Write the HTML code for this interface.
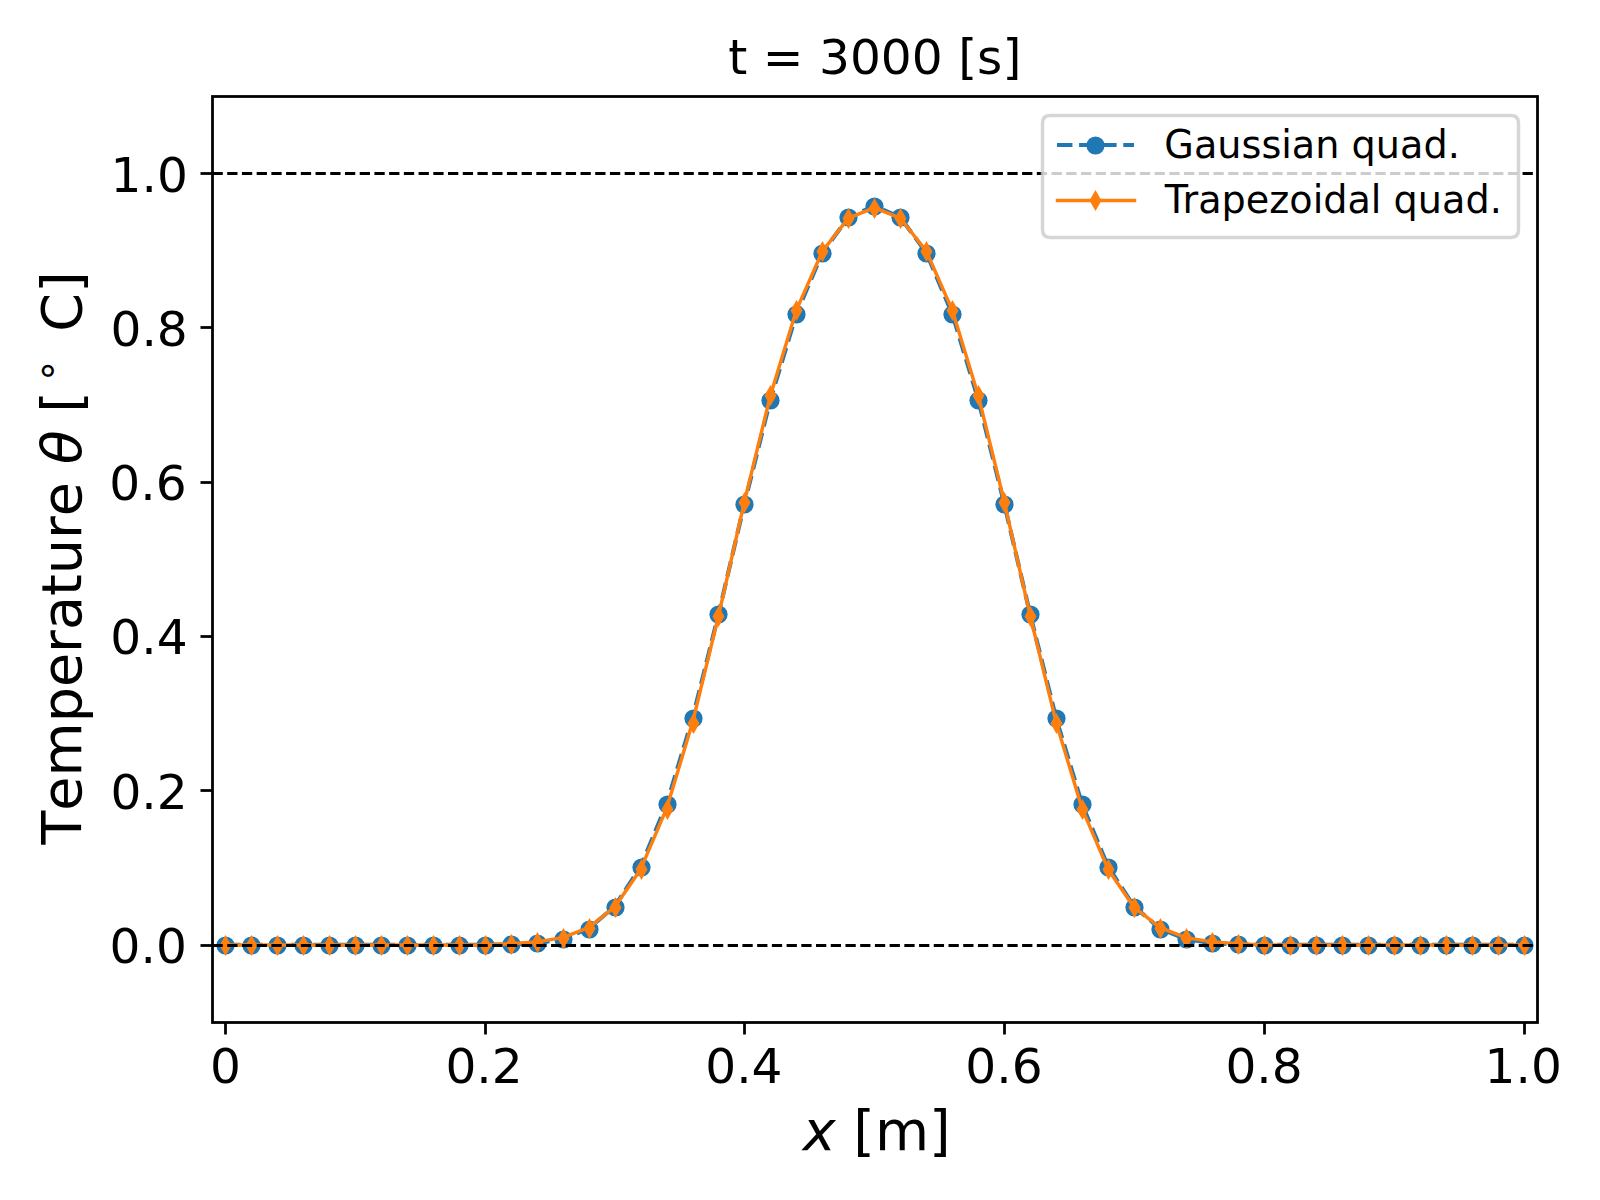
<!DOCTYPE html>
<html lang="en"><head><meta charset="utf-8"><title>t = 3000 [s]</title>
<style>
html,body{margin:0;padding:0;background:#fff;}
body{width:1600px;height:1200px;overflow:hidden;}
svg{display:block;}
text{font-family:"DejaVu Sans","Liberation Sans",sans-serif;fill:#000;}
.tk{font-size:48.61px;}
.lb{font-size:55.56px;}
.lg{font-size:38.19px;}
.it{font-style:oblique;}
</style></head>
<body>
<svg width="1600" height="1200" viewBox="0 0 1600 1200">
<rect x="0" y="0" width="1600" height="1200" fill="#fff"/>
<g>
<polyline points="224.94,944.78 250.92,944.78 276.9,944.78 302.87,944.78 328.85,944.78 354.82,944.78 380.8,944.78 406.78,944.78 432.75,944.78 458.73,944.78 484.7,944.75 510.68,944.4 536.66,943.15 562.63,939.02 588.61,928.6 614.58,906.6 640.56,866.84 666.54,804.4 692.51,718.4 718.49,614.4 744.46,503.6 770.44,399.6 796.42,313.79 822.39,252.73 848.37,217.4 874.34,206 900.32,217.4 926.3,252.73 952.27,313.79 978.25,399.6 1004.22,503.6 1030.2,614.4 1056.18,718.4 1082.15,804.4 1108.13,866.84 1134.1,906.6 1160.08,928.6 1186.06,939.02 1212.03,943.15 1238.01,944.4 1263.98,944.75 1289.96,944.78 1315.94,944.78 1341.91,944.78 1367.89,944.78 1393.86,944.78 1419.84,944.78 1445.82,944.78 1471.79,944.78 1497.77,944.78 1523.74,944.78" fill="none" stroke="#1f77b4" stroke-width="4.17" stroke-dasharray="15.42 6.67" stroke-linejoin="round"/>
<g fill="#1f77b4">
<circle cx="225.5" cy="945.5" r="9.12"/><circle cx="251.5" cy="945.5" r="9.12"/><circle cx="277.5" cy="945.5" r="9.12"/><circle cx="303.5" cy="945.5" r="9.12"/><circle cx="329.5" cy="945.5" r="9.12"/><circle cx="355.5" cy="945.5" r="9.12"/><circle cx="381.5" cy="945.5" r="9.12"/><circle cx="407.5" cy="945.5" r="9.12"/><circle cx="433.5" cy="945.5" r="9.12"/><circle cx="459.5" cy="945.5" r="9.12"/><circle cx="485.5" cy="945.5" r="9.12"/><circle cx="511.5" cy="944.5" r="9.12"/><circle cx="537.5" cy="943.5" r="9.12"/><circle cx="563.5" cy="939.5" r="9.12"/><circle cx="589.5" cy="929.5" r="9.12"/><circle cx="615.5" cy="907.5" r="9.12"/><circle cx="641.5" cy="867.5" r="9.12"/><circle cx="667.5" cy="804.5" r="9.12"/><circle cx="693.5" cy="718.5" r="9.12"/><circle cx="718.5" cy="614.5" r="9.12"/><circle cx="744.5" cy="504.5" r="9.12"/><circle cx="770.5" cy="400.5" r="9.12"/><circle cx="796.5" cy="314.5" r="9.12"/><circle cx="822.5" cy="253.5" r="9.12"/><circle cx="848.5" cy="217.5" r="9.12"/><circle cx="874.5" cy="206.5" r="9.12"/><circle cx="900.5" cy="217.5" r="9.12"/><circle cx="926.5" cy="253.5" r="9.12"/><circle cx="952.5" cy="314.5" r="9.12"/><circle cx="978.5" cy="400.5" r="9.12"/><circle cx="1004.5" cy="504.5" r="9.12"/><circle cx="1030.5" cy="614.5" r="9.12"/><circle cx="1056.5" cy="718.5" r="9.12"/><circle cx="1082.5" cy="804.5" r="9.12"/><circle cx="1108.5" cy="867.5" r="9.12"/><circle cx="1134.5" cy="907.5" r="9.12"/><circle cx="1160.5" cy="929.5" r="9.12"/><circle cx="1186.5" cy="939.5" r="9.12"/><circle cx="1212.5" cy="943.5" r="9.12"/><circle cx="1238.5" cy="944.5" r="9.12"/><circle cx="1264.5" cy="945.5" r="9.12"/><circle cx="1290.5" cy="945.5" r="9.12"/><circle cx="1316.5" cy="945.5" r="9.12"/><circle cx="1342.5" cy="945.5" r="9.12"/><circle cx="1368.5" cy="945.5" r="9.12"/><circle cx="1394.5" cy="945.5" r="9.12"/><circle cx="1420.5" cy="945.5" r="9.12"/><circle cx="1446.5" cy="945.5" r="9.12"/><circle cx="1472.5" cy="945.5" r="9.12"/><circle cx="1498.5" cy="945.5" r="9.12"/><circle cx="1524.5" cy="945.5" r="9.12"/>
</g>
<polyline points="224.94,944.93 250.92,944.93 276.9,944.93 302.87,944.93 328.85,944.93 354.82,944.93 380.8,944.93 406.78,944.93 432.75,944.93 458.73,944.93 484.7,944.9 510.68,943.67 536.66,941.88 562.63,937.6 588.61,927.72 614.58,907.17 640.56,869.4 666.54,808.67 692.51,722.6 718.49,615.96 744.46,501.65 770.44,395.4 796.42,310.11 822.39,251.23 848.37,218.08 874.34,207.6 900.32,218.08 926.3,251.23 952.27,310.11 978.25,395.4 1004.22,501.65 1030.2,615.96 1056.18,722.6 1082.15,808.67 1108.13,869.4 1134.1,907.17 1160.08,927.72 1186.06,937.6 1212.03,941.88 1238.01,943.67 1263.98,944.9 1289.96,944.93 1315.94,944.93 1341.91,944.93 1367.89,944.93 1393.86,944.93 1419.84,944.93 1445.82,944.93 1471.79,944.93 1497.77,944.93 1523.74,944.93" fill="none" stroke="#ff7f0e" stroke-width="3.47" stroke-linejoin="round" stroke-linecap="square"/>
<g fill="#ff7f0e" stroke="#ff7f0e" stroke-width="3.47" stroke-linejoin="miter" stroke-miterlimit="10">
<path d="M225.5,938.5 L229.53,945.5 L225.5,952.5 L221.47,945.5 Z"/><path d="M251.5,938.5 L255.53,945.5 L251.5,952.5 L247.47,945.5 Z"/><path d="M277.5,938.5 L281.53,945.5 L277.5,952.5 L273.47,945.5 Z"/><path d="M303.5,938.5 L307.53,945.5 L303.5,952.5 L299.47,945.5 Z"/><path d="M329.5,938.5 L333.53,945.5 L329.5,952.5 L325.47,945.5 Z"/><path d="M355.5,938.5 L359.53,945.5 L355.5,952.5 L351.47,945.5 Z"/><path d="M381.5,938.5 L385.53,945.5 L381.5,952.5 L377.47,945.5 Z"/><path d="M407.5,938.5 L411.53,945.5 L407.5,952.5 L403.47,945.5 Z"/><path d="M433.5,938.5 L437.53,945.5 L433.5,952.5 L429.47,945.5 Z"/><path d="M459.5,938.5 L463.53,945.5 L459.5,952.5 L455.47,945.5 Z"/><path d="M485.5,938.5 L489.53,945.5 L485.5,952.5 L481.47,945.5 Z"/><path d="M511.5,937.5 L515.53,944.5 L511.5,951.5 L507.47,944.5 Z"/><path d="M537.5,935.5 L541.53,942.5 L537.5,949.5 L533.47,942.5 Z"/><path d="M563.5,931.5 L567.53,938.5 L563.5,945.5 L559.47,938.5 Z"/><path d="M589.5,921.5 L593.53,928.5 L589.5,935.5 L585.47,928.5 Z"/><path d="M615.5,900.5 L619.53,907.5 L615.5,914.5 L611.47,907.5 Z"/><path d="M641.5,862.5 L645.53,869.5 L641.5,876.5 L637.47,869.5 Z"/><path d="M667.5,802.5 L671.53,809.5 L667.5,816.5 L663.47,809.5 Z"/><path d="M693.5,716.5 L697.53,723.5 L693.5,730.5 L689.47,723.5 Z"/><path d="M718.5,609.5 L722.53,616.5 L718.5,623.5 L714.47,616.5 Z"/><path d="M744.5,495.5 L748.53,502.5 L744.5,509.5 L740.47,502.5 Z"/><path d="M770.5,388.5 L774.53,395.5 L770.5,402.5 L766.47,395.5 Z"/><path d="M796.5,303.5 L800.53,310.5 L796.5,317.5 L792.47,310.5 Z"/><path d="M822.5,244.5 L826.53,251.5 L822.5,258.5 L818.47,251.5 Z"/><path d="M848.5,211.5 L852.53,218.5 L848.5,225.5 L844.47,218.5 Z"/><path d="M874.5,201.5 L878.53,208.5 L874.5,215.5 L870.47,208.5 Z"/><path d="M900.5,211.5 L904.53,218.5 L900.5,225.5 L896.47,218.5 Z"/><path d="M926.5,244.5 L930.53,251.5 L926.5,258.5 L922.47,251.5 Z"/><path d="M952.5,303.5 L956.53,310.5 L952.5,317.5 L948.47,310.5 Z"/><path d="M978.5,388.5 L982.53,395.5 L978.5,402.5 L974.47,395.5 Z"/><path d="M1004.5,495.5 L1008.53,502.5 L1004.5,509.5 L1000.47,502.5 Z"/><path d="M1030.5,609.5 L1034.53,616.5 L1030.5,623.5 L1026.47,616.5 Z"/><path d="M1056.5,716.5 L1060.53,723.5 L1056.5,730.5 L1052.47,723.5 Z"/><path d="M1082.5,802.5 L1086.53,809.5 L1082.5,816.5 L1078.47,809.5 Z"/><path d="M1108.5,862.5 L1112.53,869.5 L1108.5,876.5 L1104.47,869.5 Z"/><path d="M1134.5,900.5 L1138.53,907.5 L1134.5,914.5 L1130.47,907.5 Z"/><path d="M1160.5,921.5 L1164.53,928.5 L1160.5,935.5 L1156.47,928.5 Z"/><path d="M1186.5,931.5 L1190.53,938.5 L1186.5,945.5 L1182.47,938.5 Z"/><path d="M1212.5,935.5 L1216.53,942.5 L1212.5,949.5 L1208.47,942.5 Z"/><path d="M1238.5,937.5 L1242.53,944.5 L1238.5,951.5 L1234.47,944.5 Z"/><path d="M1264.5,938.5 L1268.53,945.5 L1264.5,952.5 L1260.47,945.5 Z"/><path d="M1290.5,938.5 L1294.53,945.5 L1290.5,952.5 L1286.47,945.5 Z"/><path d="M1316.5,938.5 L1320.53,945.5 L1316.5,952.5 L1312.47,945.5 Z"/><path d="M1342.5,938.5 L1346.53,945.5 L1342.5,952.5 L1338.47,945.5 Z"/><path d="M1368.5,938.5 L1372.53,945.5 L1368.5,952.5 L1364.47,945.5 Z"/><path d="M1394.5,938.5 L1398.53,945.5 L1394.5,952.5 L1390.47,945.5 Z"/><path d="M1420.5,938.5 L1424.53,945.5 L1420.5,952.5 L1416.47,945.5 Z"/><path d="M1446.5,938.5 L1450.53,945.5 L1446.5,952.5 L1442.47,945.5 Z"/><path d="M1472.5,938.5 L1476.53,945.5 L1472.5,952.5 L1468.47,945.5 Z"/><path d="M1498.5,938.5 L1502.53,945.5 L1498.5,952.5 L1494.47,945.5 Z"/><path d="M1524.5,938.5 L1528.53,945.5 L1524.5,952.5 L1520.47,945.5 Z"/>
</g>
<line x1="212.5" y1="945.5" x2="1537.5" y2="945.5" stroke="#000" stroke-width="2.78" stroke-dasharray="10.28 4.44"/>
<line x1="212.5" y1="173.5" x2="1537.5" y2="173.5" stroke="#000" stroke-width="2.78" stroke-dasharray="10.28 4.44"/>
</g>
<g stroke="#000" stroke-width="2.78" fill="none">
<line x1="225.5" y1="1022.5" x2="225.5" y2="1034.5"/><line x1="485.5" y1="1022.5" x2="485.5" y2="1034.5"/><line x1="744.5" y1="1022.5" x2="744.5" y2="1034.5"/><line x1="1004.5" y1="1022.5" x2="1004.5" y2="1034.5"/><line x1="1264.5" y1="1022.5" x2="1264.5" y2="1034.5"/><line x1="1524.5" y1="1022.5" x2="1524.5" y2="1034.5"/><line x1="200.5" y1="945.5" x2="212.5" y2="945.5"/><line x1="200.5" y1="790.5" x2="212.5" y2="790.5"/><line x1="200.5" y1="636.5" x2="212.5" y2="636.5"/><line x1="200.5" y1="482.5" x2="212.5" y2="482.5"/><line x1="200.5" y1="327.5" x2="212.5" y2="327.5"/><line x1="200.5" y1="173.5" x2="212.5" y2="173.5"/>
<rect x="212.5" y="96.5" width="1325" height="926" stroke-linejoin="miter"/>
</g>
<g class="tk" text-anchor="middle">
<text x="225.39" y="1082.99">0</text><text x="484.04" y="1082.99">0.2</text><text x="743.87" y="1082.99">0.4</text><text x="1003.92" y="1082.99">0.6</text><text x="1264.08" y="1082.99">0.8</text><text x="1523.16" y="1082.99">1.0</text>
</g>
<g class="tk" text-anchor="end">
<text x="186.89" y="963.07">0.0</text><text x="187.69" y="808.77">0.2</text><text x="187.59" y="654.47">0.4</text><text x="186.59" y="500.17">0.6</text><text x="187.79" y="345.87">0.8</text><text x="187.89" y="191.57">1.0</text>
</g>
<text class="tk" text-anchor="middle" x="874.84" y="74.12">t = 3000 [s]</text>
<text class="lb" x="802.7" y="1150.37"><tspan class="it">x</tspan> <tspan x="853.24">[m]</tspan></text>
<g transform="translate(81.23 844.57) rotate(-90)"><text class="lb" x="0" y="0"><tspan x="0 33.94 68.12 122.23 157.5 191.68 214.52 248.56 270.35 305.56 328.4">Temperature</tspan> <tspan class="it" x="380.24">θ</tspan> <tspan x="431.88">[</tspan><tspan x="461.67" dy="-21.26" font-size="38.89">∘</tspan> <tspan x="512.77" dy="21.26">C]</tspan></text></g>
<path d="M1050.14,237.5 L1510.86,237.5 Q1518.5,237.5 1518.5,229.86 L1518.5,123.14 Q1518.5,115.5 1510.86,115.5 L1050.14,115.5 Q1042.5,115.5 1042.5,123.14 L1042.5,229.86 Q1042.5,237.5 1050.14,237.5 Z" fill="#fff" fill-opacity="0.8" stroke="#ccc" stroke-opacity="0.8" stroke-width="3.47" stroke-linejoin="miter"/>
<line x1="1057" y1="145" x2="1134" y2="145" stroke="#1f77b4" stroke-width="4.17" stroke-dasharray="15.42 6.67"/>
<circle cx="1095.5" cy="145.5" r="9.12" fill="#1f77b4"/>
<line x1="1057.5" y1="200.5" x2="1134.5" y2="200.5" stroke="#ff7f0e" stroke-width="3.47" stroke-linecap="square"/>
<path d="M1095.5,193.5 L1099.53,200.5 L1095.5,207.5 L1091.47,200.5 Z" fill="#ff7f0e" stroke="#ff7f0e" stroke-width="3.47" stroke-miterlimit="10"/>
<text class="lg" x="1164.34" y="158.4">Gaussian quad.</text>
<text class="lg" x="1164.74" y="213.4">Trapezoidal quad.</text>
</svg>
</body></html>
